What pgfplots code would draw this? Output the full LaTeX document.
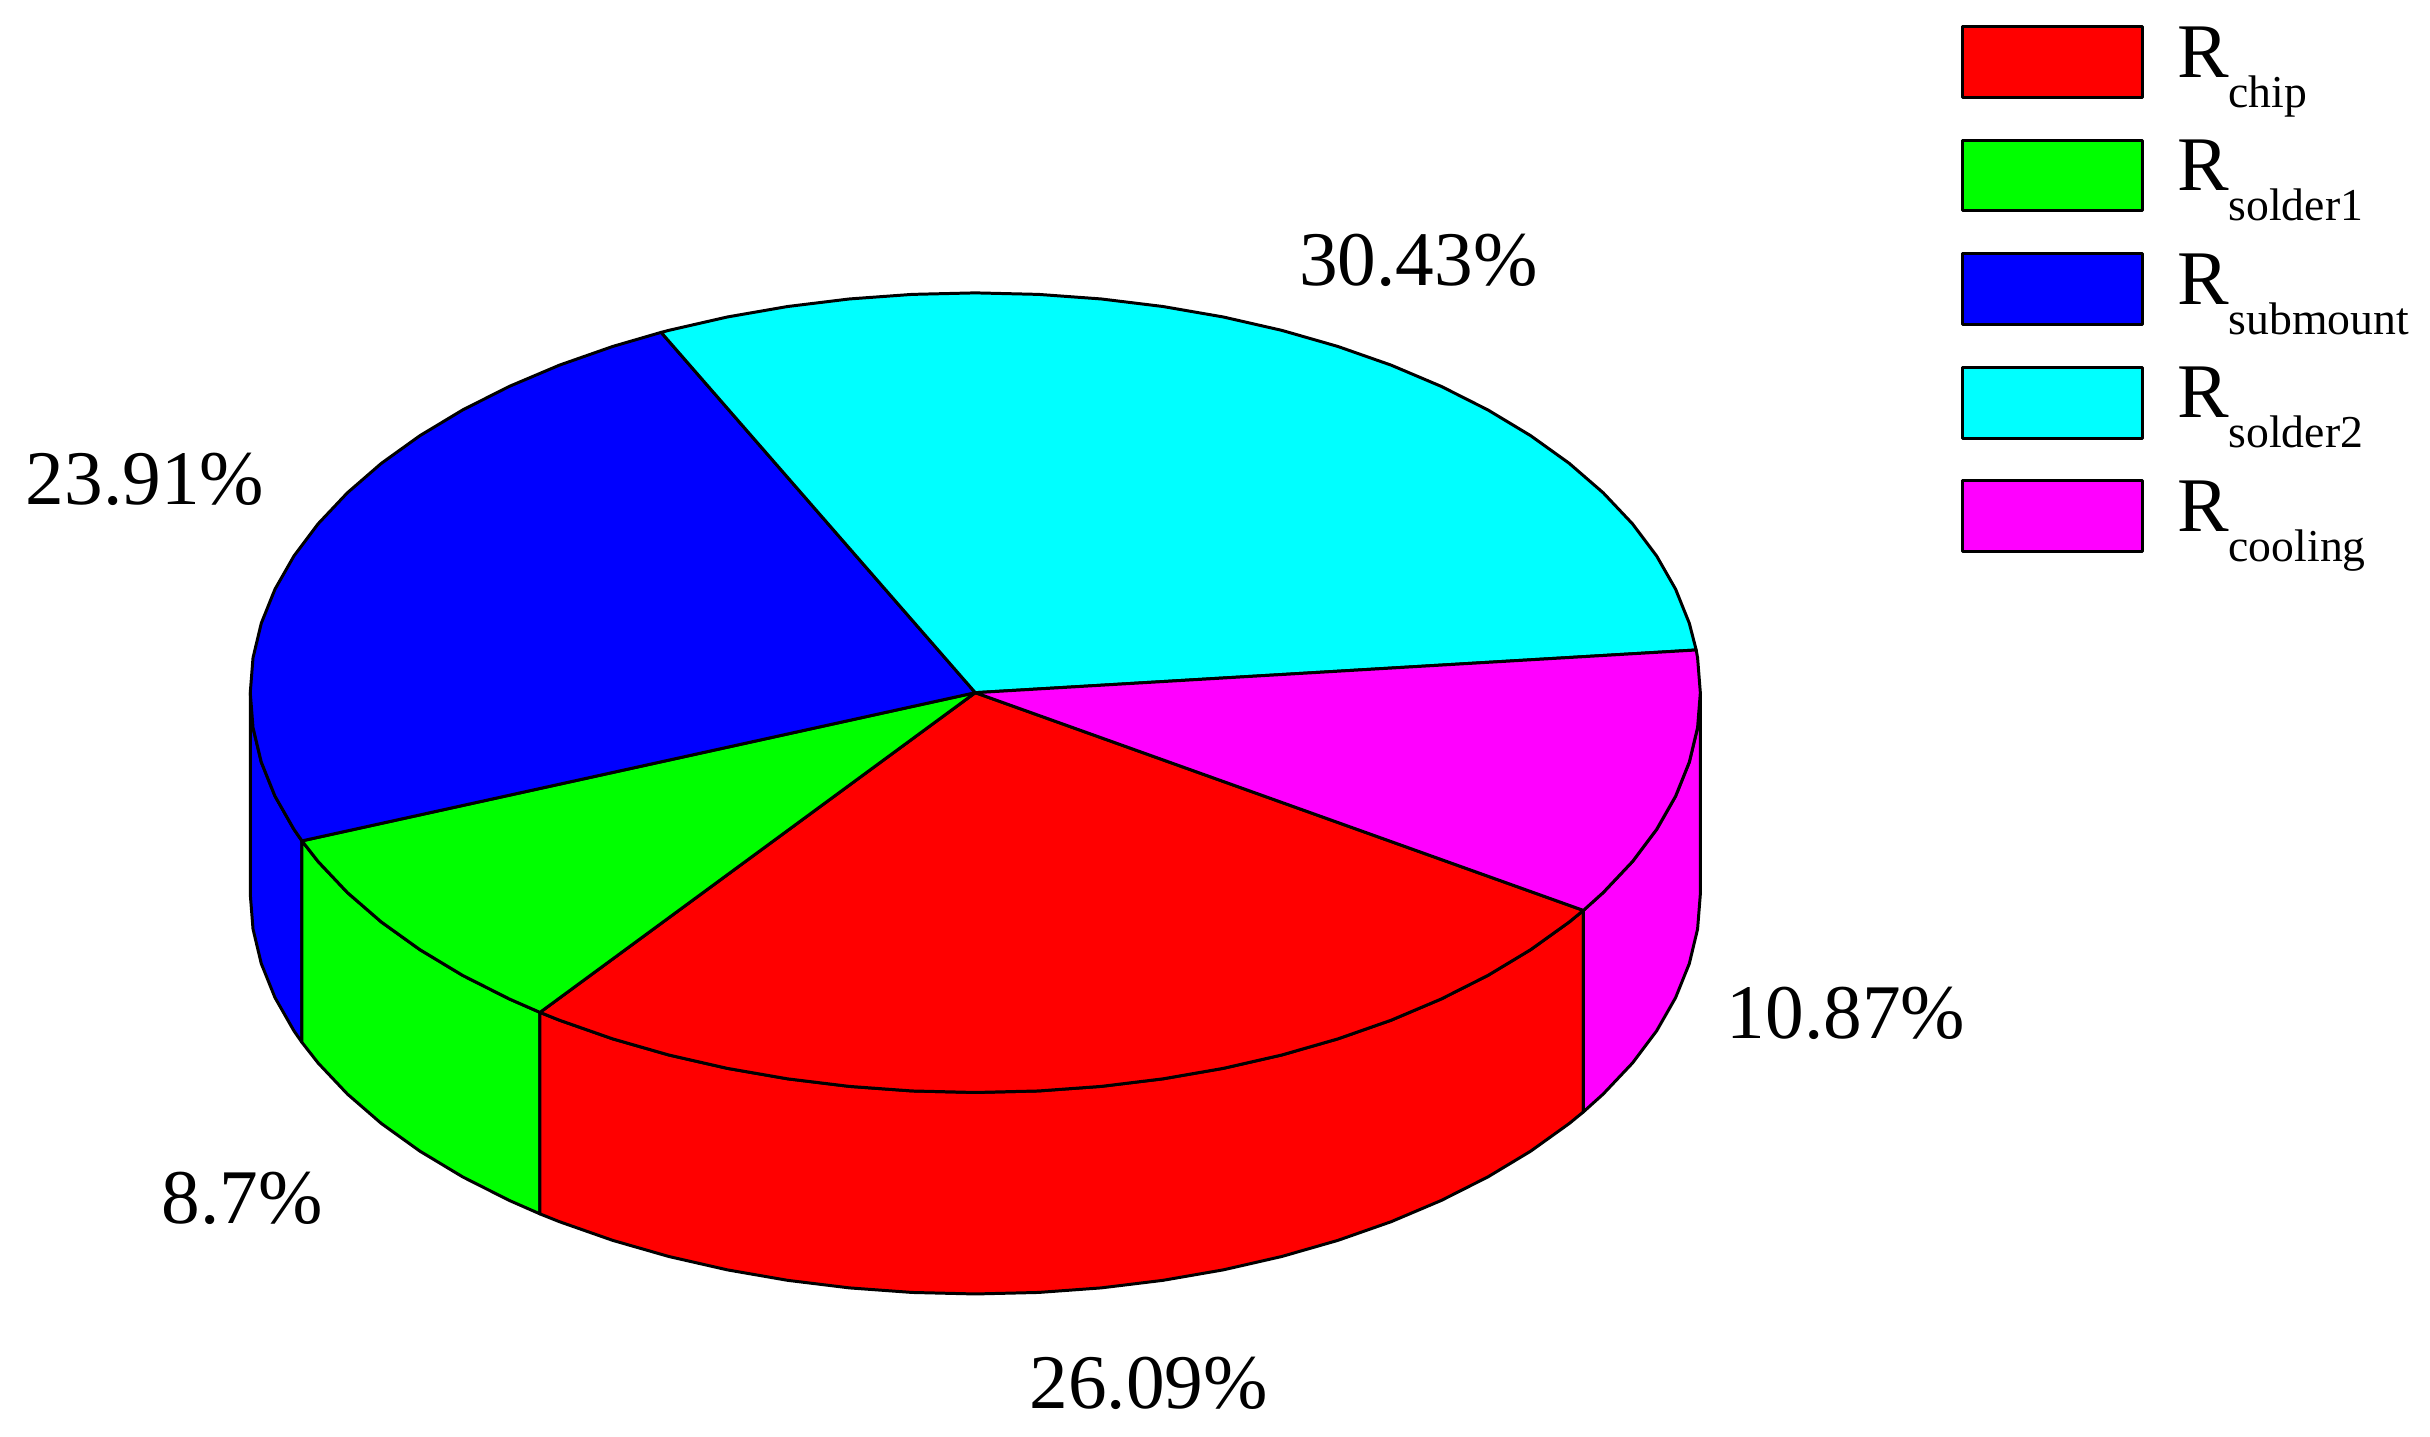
\documentclass[border=0pt]{standalone}
\usepackage{pgfplots}
\pgfplotsset{compat=1.18}
\usepackage{fontspec}
\setmainfont{Liberation Serif}
\definecolor{pcyan}{rgb}{0,1,1}
\definecolor{pmagenta}{rgb}{1,0,1}
\definecolor{pred}{rgb}{1,0,0}
\definecolor{pgreen}{rgb}{0,1,0}
\definecolor{pblue}{rgb}{0,0,1}
\newcommand\Rs[1]{\smash{R\raisebox{-.30cm}{\fontsize{13}{13}\selectfont #1}}}
\pgfplotsset{
  slice/.style={draw=black,line width=0.85pt,line join=round,fill=#1,mark=none},
  side/.style={draw=black,line width=0.85pt,line join=round,fill=#1,mark=none,forget plot},
}
\begin{document}
\fontsize{22}{26}\selectfont
\begin{tikzpicture}
\begin{axis}[
  scale only axis,width=24.3cm,height=14.37cm,
  xmin=-1.3440,xmax=2.0064,ymin=-1.8605,ymax=1.7326,
  hide axis,clip=false,
  legend cell align=left,
  legend style={at={(0.807,0.9826)},anchor=north west,draw=none,fill=none,
    inner sep=0pt,outer sep=0pt,row sep=.396cm,column sep=.33cm,
    nodes={inner sep=0pt,outer sep=0pt},font=\fontsize{22}{26}\selectfont},
  legend image code/.code={\draw[#1] (0cm,0.21cm-.355cm) rectangle (1.80cm,0.21cm+.355cm);},
]
\path (rel axis cs:0,0) rectangle (rel axis cs:1,1);
% visible sides (depth 0.504)
\addplot[side=pblue] coordinates {(-1,0)(-.9962,-.0872)(-.9848,-.1736)(-.9659,-.2588)(-.9397,-.3420)(-.9287,-.3707)
 (-.9287,-.8747)(-.9397,-.8460)(-.9659,-.7628)(-.9848,-.6776)(-.9962,-.5912)(-1,-.504)} -- cycle;
\addplot[side=pgreen] coordinates {(-.9287,-.3707)(-.9063,-.4226)(-.8660,-.5)(-.8192,-.5736)(-.7660,-.6428)(-.7071,-.7071)(-.6428,-.7660)(-.6004,-.7997)
 (-.6004,-1.3037)(-.6428,-1.2700)(-.7071,-1.2111)(-.7660,-1.1468)(-.8192,-1.0776)(-.8660,-1.004)(-.9063,-.9266)(-.9287,-.8747)} -- cycle;
\addplot[side=pred] coordinates {(-.6004,-.7997)(-.5736,-.8192)(-.5,-.8660)(-.4226,-.9063)(-.3420,-.9397)(-.2588,-.9659)(-.1736,-.9848)(-.0872,-.9962)(0,-1)(.0872,-.9962)(.1736,-.9848)(.2588,-.9659)(.3420,-.9397)(.4226,-.9063)(.5,-.8660)(.5736,-.8192)(.6428,-.7660)(.7071,-.7071)(.7660,-.6428)(.8192,-.5736)(.8387,-.5446)
 (.8387,-1.0486)(.8192,-1.0776)(.7660,-1.1468)(.7071,-1.2111)(.6428,-1.2700)(.5736,-1.3232)(.5,-1.3700)(.4226,-1.4103)(.3420,-1.4437)(.2588,-1.4699)(.1736,-1.4888)(.0872,-1.5002)(0,-1.504)(-.0872,-1.5002)(-.1736,-1.4888)(-.2588,-1.4699)(-.3420,-1.4437)(-.4226,-1.4103)(-.5,-1.3700)(-.5736,-1.3232)(-.6004,-1.3037)} -- cycle;
\addplot[side=pmagenta] coordinates {(.8387,-.5446)(.8660,-.5)(.9063,-.4226)(.9397,-.3420)(.9659,-.2588)(.9848,-.1736)(.9962,-.0872)(1,0)
 (1,-.504)(.9962,-.5912)(.9848,-.6776)(.9659,-.7628)(.9397,-.8460)(.9063,-.9266)(.8660,-1.004)(.8387,-1.0486)} -- cycle;
% top slices, in the legend's order
\addplot[slice=pred] coordinates {(0,0)(.8387,-.5446)(.8192,-.5736)(.7660,-.6428)(.7071,-.7071)(.6428,-.7660)(.5736,-.8192)(.5,-.8660)(.4226,-.9063)(.3420,-.9397)(.2588,-.9659)(.1736,-.9848)(.0872,-.9962)(0,-1)(-.0872,-.9962)(-.1736,-.9848)(-.2588,-.9659)(-.3420,-.9397)(-.4226,-.9063)(-.5,-.8660)(-.5736,-.8192)(-.6004,-.7997)} -- cycle;
\addlegendentry{\Rs{chip}}
\addplot[slice=pgreen] coordinates {(0,0)(-.6004,-.7997)(-.6428,-.7660)(-.7071,-.7071)(-.7660,-.6428)(-.8192,-.5736)(-.8660,-.5)(-.9063,-.4226)(-.9287,-.3707)} -- cycle;
\addlegendentry{\Rs{solder1}}
\addplot[slice=pblue] coordinates {(0,0)(-.9287,-.3707)(-.9397,-.3420)(-.9659,-.2588)(-.9848,-.1736)(-.9962,-.0872)(-1,0)(-.9962,.0872)(-.9848,.1736)(-.9659,.2588)(-.9397,.3420)(-.9063,.4226)(-.8660,.5)(-.8192,.5736)(-.7660,.6428)(-.7071,.7071)(-.6428,.7660)(-.5736,.8192)(-.5,.8660)(-.4333,.9012)} -- cycle;
\addlegendentry{\Rs{submount}}
\addplot[slice=pcyan] coordinates {(0,0)(-.4333,.9012)(-.4226,.9063)(-.3420,.9397)(-.2588,.9659)(-.1736,.9848)(-.0872,.9962)(0,1)(.0872,.9962)(.1736,.9848)(.2588,.9659)(.3420,.9397)(.4226,.9063)(.5,.8660)(.5736,.8192)(.6428,.7660)(.7071,.7071)(.7660,.6428)(.8192,.5736)(.8660,.5)(.9063,.4226)(.9397,.3420)(.9659,.2588)(.9848,.1736)(.9943,.1068)} -- cycle;
\addlegendentry{\Rs{solder2}}
\addplot[slice=pmagenta] coordinates {(0,0)(.9943,.1068)(.9962,.0872)(1,0)(.9962,-.0872)(.9848,-.1736)(.9659,-.2588)(.9397,-.3420)(.9063,-.4226)(.8660,-.5)(.8387,-.5446)} -- cycle;
\addlegendentry{\Rs{cooling}}
\node at (axis cs:.6111,1.0814) {30.43\%};
\node at (axis cs:-1.1453,.5330) {23.91\%};
\node at (axis cs:-1.0107,-1.2636) {8.7\%};
\node at (axis cs:.2393,-1.7287) {26.09\%};
\node at (axis cs:1.2009,-.8023) {10.87\%};
\end{axis}
\end{tikzpicture}
\end{document}
